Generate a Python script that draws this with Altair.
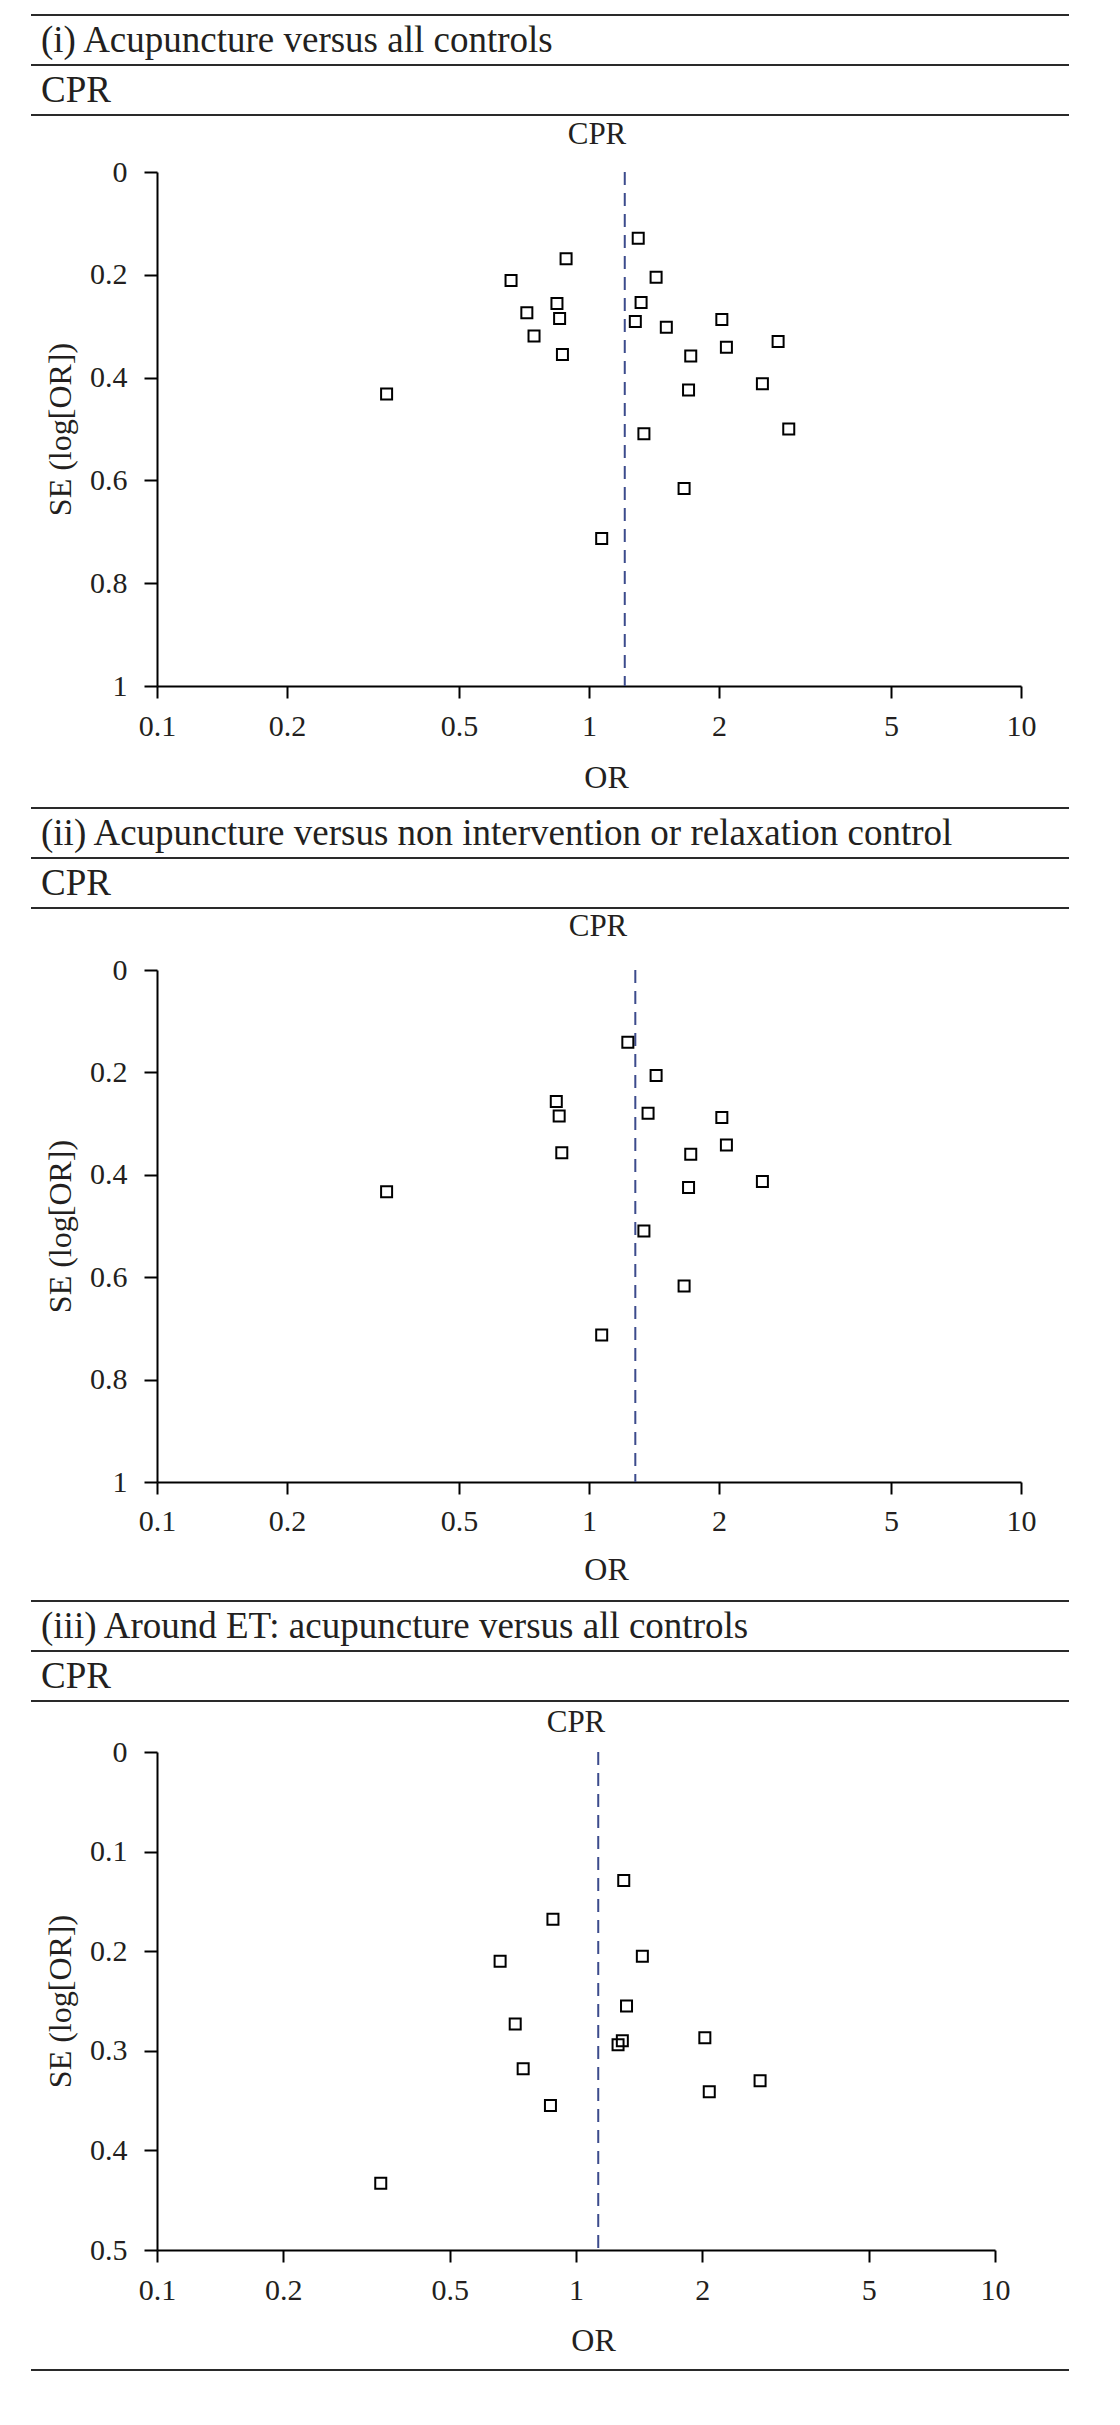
import altair as alt
import pandas as pd

FONT = "Liberation Serif"
INK = "#231f20"
RULE = "#2a2a2a"
DASH = "#3c4b8c"

# ---------------- data ----------------
p1_or = [1.30, 0.885, 1.43, 0.66, 0.843, 1.32, 0.718, 0.855, 1.28, 2.03, 1.51, 0.746,
         2.74, 2.08, 0.868, 1.72, 2.52, 1.70, 0.340, 2.90, 1.34, 1.66, 1.07]
p1_se = [0.129, 0.169, 0.205, 0.211, 0.256, 0.254, 0.274, 0.285, 0.291, 0.287, 0.302, 0.319,
         0.330, 0.341, 0.355, 0.358, 0.412, 0.424, 0.432, 0.500, 0.509, 0.616, 0.713]
p1_pooled = 1.21

p2_or = [1.23, 1.43, 0.84, 0.853, 1.37, 2.03, 2.08, 0.865, 1.72, 2.52, 1.70, 0.340, 1.34, 1.66, 1.07]
p2_se = [0.141, 0.206, 0.257, 0.285, 0.280, 0.288, 0.342, 0.357, 0.360, 0.413, 0.425, 0.433, 0.510, 0.617, 0.713]
p2_pooled = 1.28

p3_or = [1.30, 0.881, 1.44, 0.659, 1.32, 0.716, 2.03, 1.29, 1.26, 0.748, 2.75, 2.08, 0.869, 0.342]
p3_se = [0.129, 0.168, 0.205, 0.210, 0.255, 0.273, 0.287, 0.290, 0.294, 0.318, 0.330, 0.341, 0.355, 0.433]
p3_pooled = 1.13

x_ticks = [0.1, 0.2, 0.5, 1, 2, 5, 10]
y_ticks_a = [0, 0.2, 0.4, 0.6, 0.8, 1]
y_ticks_b = [0, 0.1, 0.2, 0.3, 0.4, 0.5]

titles = ["(i) Acupuncture versus all controls",
          "(ii) Acupuncture versus non intervention or relaxation control",
          "(iii) Around ET: acupuncture versus all controls"]
subtitle = "CPR"
chart_label = "CPR"

one = alt.Data(values=[{"k": 1}])


def hrule(y, opacity=1.0):
    return alt.Chart(one).mark_rule(color=RULE, strokeWidth=2, opacity=opacity).encode(
        x=alt.value(-126), x2=alt.value(912), y=alt.value(y))


def htext(txt, x, y, size, align):
    return alt.Chart(one).mark_text(font=FONT, fontSize=size, color=INK, align=align,
                                    baseline="middle").encode(
        x=alt.value(x), y=alt.value(y), text=alt.value(txt))


def panel(title, or_vals, se_vals, pooled, ymax, yticks, w, h, lay):
    df = pd.DataFrame({"OR": or_vals, "SE": se_vals})
    xscale = alt.Scale(type="log", domain=[0.1, 10], nice=False)
    yscale = alt.Scale(domain=[0, ymax], reverse=True, nice=False, zero=True)
    common = dict(labelFont=FONT, labelFontSize=30, labelColor=INK,
                  titleFont=FONT, titleFontSize=32, titleFontWeight="normal", titleColor=INK,
                  labelFlush=False, labelOverlap=False, format="~g")
    xaxis = alt.Axis(values=x_ticks, title="OR",
                     tickSize=12, labelPadding=lay["lab"], labelBaseline="middle",
                     titleX=lay["orx"], titleY=lay["ory"], titleAlign="center", titleBaseline="middle",
                     titleAngle=0, **common)
    yaxis = alt.Axis(values=yticks, title="SE (log[OR])", tickSize=13, labelPadding=17,
                     titleX=-97, titleY=h / 2, titleAngle=270, titleAlign="center",
                     titleBaseline="middle", **common)
    pts = alt.Chart(df).mark_point(shape="square", filled=False, size=121, strokeWidth=2,
                                   color="black", opacity=1).encode(
        x=alt.X("OR:Q", scale=xscale, axis=xaxis),
        y=alt.Y("SE:Q", scale=yscale, axis=yaxis))
    pooled_rule = alt.Chart(pd.DataFrame({"OR": [pooled]})).mark_rule(
        color=DASH, strokeWidth=2, strokeDash=[13, 8]).encode(
        x=alt.X("OR:Q", scale=xscale, axis=xaxis))
    layers = [
        hrule(lay["top"] - 3, opacity=0.0),           # layout bound (invisible)
        hrule(lay["top"]),
        htext(title, -116, lay["top"] + 26, 37, "left"),
        hrule(lay["top"] + 50),
        htext(subtitle, -116, lay["top"] + 76, 37, "left"),
        hrule(lay["top"] + 100),
        htext(chart_label, lay["cprx"], lay["cpry"], 31, "center"),
        pooled_rule,
        pts,
    ]
    if lay.get("bottom_visible"):
        layers.append(hrule(h + lay["bottom"]))
        layers.append(hrule(h + lay["bottom"] + 3, opacity=0.0))
    else:
        layers.append(hrule(h + lay["bottom"], opacity=0.0))
    return alt.layer(*layers).properties(width=w, height=h)


c1 = panel(titles[0], p1_or, p1_se, p1_pooled, 1, y_ticks_a, 864, 514,
           dict(top=-157, cprx=440, cpry=-37, lab=28, orx=449, ory=91, bottom=119))
c2 = panel(titles[1], p2_or, p2_se, p2_pooled, 1, y_ticks_a, 864, 512,
           dict(top=-162, cprx=441, cpry=-43, lab=27, orx=449, ory=87, bottom=116))
c3 = panel(titles[2], p3_or, p3_se, p3_pooled, 0.5, y_ticks_b, 838, 498,
           dict(top=-151, cprx=419, cpry=-29, lab=28, orx=436, ory=90, bottom=120,
                bottom_visible=True))

chart = alt.vconcat(c1, c2, c3, spacing=0).resolve_scale(
    x="independent", y="independent").properties(
    padding={"left": 22, "top": 4, "right": 5, "bottom": 5}
).configure_view(stroke=None).configure_axis(
    grid=False, domainColor="black", domainWidth=2, tickColor="black", tickWidth=2,
    labelFont=FONT, labelFontSize=30, labelColor=INK,
    titleFont=FONT, titleFontSize=32, titleFontWeight="normal", titleColor=INK,
)

chart.save("out.html", embed_options={"renderer": "svg", "actions": False})
